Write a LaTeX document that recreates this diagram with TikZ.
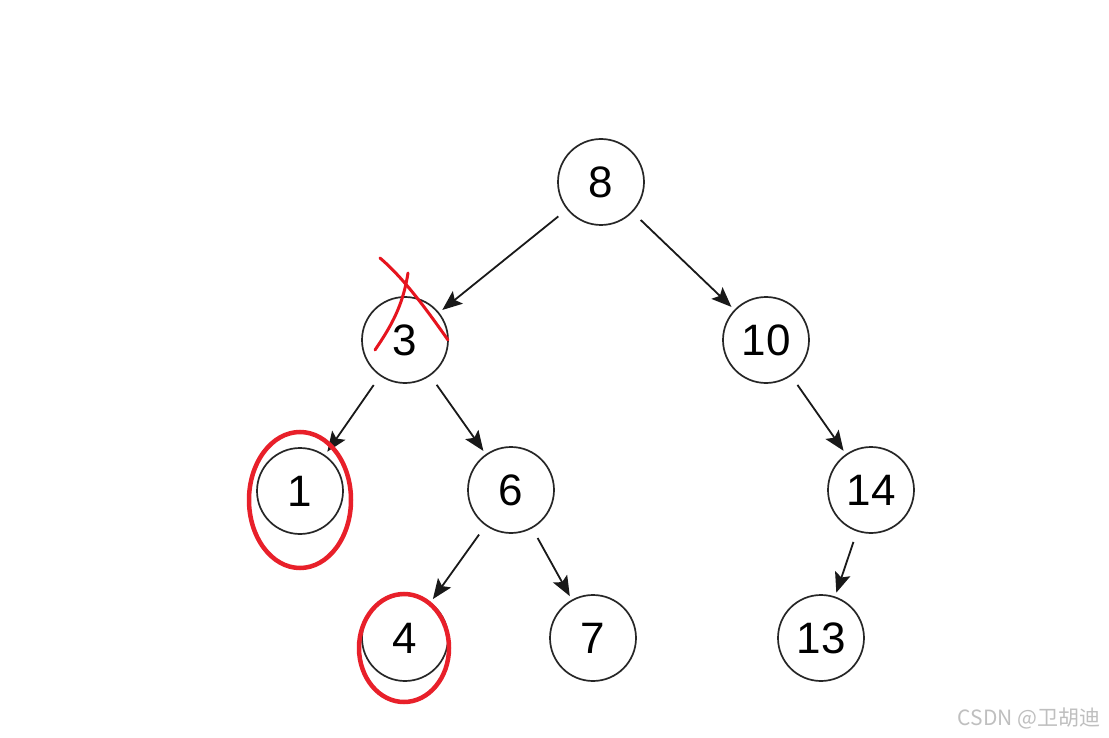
\documentclass[tikz,border=0pt]{standalone}
\usepackage{fontspec}
\setmainfont{Liberation Sans}
\newfontfamily\cjk{Noto Sans CJK SC}
\usetikzlibrary{arrows.meta}
\begin{document}
\begin{tikzpicture}[x=1pt,y=-1pt,
  tn/.style={circle,draw=black!85,line width=1.7pt,minimum size=86pt,inner sep=0pt,font=\fontsize{44}{44}\selectfont},
  edge/.style={line width=1.8pt,black!90,-{Stealth[length=20pt,width=16pt,inset=4pt]},shorten <=11pt,shorten >=4pt},
  redmark/.style={draw={rgb,255:red,232;green,32;blue,42},line width=4.5pt},
  redpen/.style={draw={rgb,255:red,230;green,20;blue,30},line width=3pt,line cap=round}]
\useasboundingbox (0,0) rectangle (1109,738);
\fill[white] (0,0) rectangle (1109,738);
\node[tn] (n8) at (601,182) {8};
\node[tn] (n3) at (405,340) {3};
\node[tn] (n10) at (766,340) {10};
\node[tn] (n1) at (300,491) {1};
\node[tn] (n6) at (511,490) {6};
\node[tn] (n14) at (871,490) {14};
\node[tn] (n4) at (405,638) {4};
\node[tn] (n7) at (593,638) {7};
\node[tn] (n13) at (821,638) {13};
\draw[edge] (n8) -- (n3);
\draw[edge] (n8) -- (n10);
\draw[edge] (n3) -- (n1);
\draw[edge] (n3) -- (n6);
\draw[edge] (n10) -- (n14);
\draw[edge] (n6) -- (n4);
\draw[edge] (n6) -- (n7);
\draw[edge] (n14) -- (n13);
% red marks
\draw[redpen] (380,258) .. controls (400,275) and (420,300) .. (448,340);
\draw[redpen] (375,350) .. controls (392,325) and (403,305) .. (408,273);
\draw[redmark] (300,500) ellipse [x radius=51pt,y radius=68pt];
\draw[redmark] (404,648) ellipse [x radius=45pt,y radius=54pt];
\node[text=black!25,font=\cjk\fontsize{21}{21}\selectfont,anchor=east] (wm) at (1104,718) {CSDN @卫胡迪};
\end{tikzpicture}
\end{document}
